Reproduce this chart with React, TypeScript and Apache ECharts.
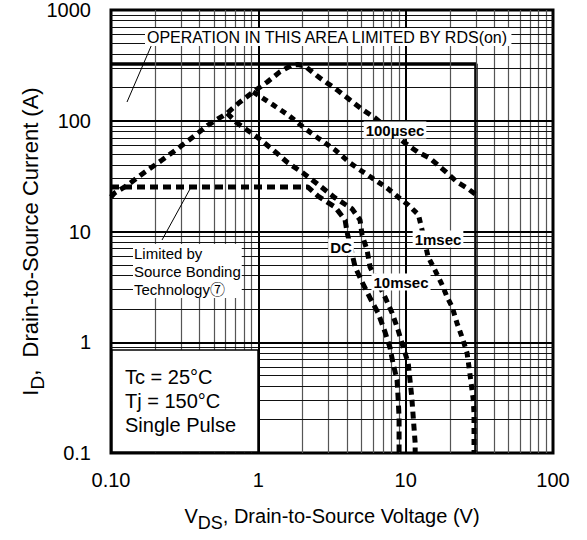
import React, { useEffect, useRef } from "react";
import * as echarts from "echarts";

// ---- tick labels ----
const xTickLabels = ["0.10", "1", "10", "100"];
const yTickLabels = ["0.1", "1", "10", "100", "1000"];

// ---- log grid positions ----
const xMinorGrid = [0.2, 0.3, 0.4, 0.5, 0.6, 0.7, 0.8, 0.9, 2, 3, 4, 5, 6, 7, 8, 9, 20, 30, 40, 50, 60, 70, 80, 90];
const xMajorGrid = [1, 10];
const yMinorGrid = [0.2, 0.3, 0.4, 0.5, 0.6, 0.7, 0.8, 0.9, 2, 3, 4, 5, 6, 7, 8, 9, 20, 30, 40, 50, 60, 70, 80, 90, 200, 300, 400, 500, 600, 700, 800, 900];
const yMajorGrid = [1, 10, 100];

// ---- SOA boundary (package current / VDS max) ----
const limitBox: [number, number][] = [[0.1, 325], [30, 325], [30, 0.1]];

// ---- RDS(on) limit rising into 100 µsec curve ----
const curve100us: [number, number][] = [
  [0.1, 20.5], [0.106, 22.3], [0.13, 26.3], [0.17, 34.5], [0.222, 44.2], [0.281, 55.6],
  [0.36, 71.3], [0.456, 91.5], [0.614, 117], [0.752, 148], [0.921, 182], [1.15, 224],
  [1.4, 276], [1.69, 318], [1.85, 322], [2.07, 312], [2.62, 243], [3.42, 190], [4.19, 154],
  [5.14, 125], [6.2, 106], [9.9, 63], [12.1, 52], [14.6, 46], [19.1, 33.8], [22.3, 28],
  [26.1, 24.7], [30.1, 21.4],
];

// ---- 1 msec ----
const curve1ms: [number, number][] = [
  [0.921, 182], [1.26, 139], [1.59, 113], [2.01, 87.9], [2.54, 69.9], [3.32, 54.5],
  [4.19, 41.6], [5.14, 34.5], [6.2, 29.2], [7.48, 24.7], [8.88, 20.5], [10.4, 17.4],
  [12.2, 14.2], [13.0, 10.0], [14.2, 5.89], [15.8, 4.49], [17.7, 3.29], [19.1, 2.56],
  [20.7, 2.08], [22.3, 1.49], [24.5, 1.05], [26.1, 0.8], [26.9, 0.6], [27.8, 0.43],
  [28.7, 0.31], [29.1, 0.23], [29.1, 0.1],
];

// ---- 10 msec ----
const curve10ms: [number, number][] = [
  [0.614, 117], [0.717, 95.4], [0.98, 71.3], [1.26, 54.5], [1.59, 41.6], [2.01, 33.8],
  [2.62, 25.8], [3.32, 20.1], [4.33, 16.0], [4.9, 12.7], [5.06, 9.3], [5.47, 6.8],
  [5.73, 4.78], [7.24, 2.56], [8.09, 1.84], [8.88, 1.29], [9.6, 0.91], [10.4, 0.65],
  [10.7, 0.456], [11.0, 0.32], [11.2, 0.23], [11.6, 0.123], [11.6, 0.1],
];

// ---- DC (limited by source bonding 25 A) ----
const curveDC: [number, number][] = [
  [0.1, 25.2], [2.17, 25.2], [2.54, 20.9], [3.32, 16.6], [3.88, 12.7], [4.0, 9.9],
  [4.54, 4.78], [5.06, 3.5], [5.73, 2.51], [6.5, 1.84], [7.24, 1.24], [7.83, 0.89],
  [8.2, 0.65], [8.74, 0.456], [8.88, 0.32], [9.02, 0.21], [9.02, 0.1],
];

const FONT = "'Liberation Sans', Arial, Helvetica, 'Noto Sans CJK JP', sans-serif";

function gridLines() {
  const d: any[] = [];
  xMinorGrid.forEach((v) => d.push({ xAxis: v, lineStyle: { color: "#555", width: 1.2, type: "solid" } }));
  yMinorGrid.forEach((v) => d.push({ yAxis: v, lineStyle: { color: "#111", width: 1, type: "solid" } }));
  xMajorGrid.forEach((v) => d.push({ xAxis: v, lineStyle: { color: "#000", width: 2, type: "solid" } }));
  yMajorGrid.forEach((v) => d.push({ yAxis: v, lineStyle: { color: "#000", width: 2, type: "solid" } }));
  return d;
}

function dashed(name: string, data: [number, number][], dash: number[]) {
  return {
    name,
    type: "line",
    data,
    symbol: "none",
    z: 5,
    lineStyle: { color: "#000", width: 5, type: dash, cap: "butt" },
    silent: true,
  };
}

export default function App() {
  const ref = useRef<HTMLDivElement>(null);
  useEffect(() => {
    if (!ref.current) return;
    const chart = echarts.init(ref.current, undefined, { renderer: "svg" });
    const labelBold = (text: string, x: number, y: number) => ({
      type: "text",
      z: 100,
      x,
      y,
      style: {
        text,
        fill: "#000",
        fontFamily: FONT,
        fontSize: 15,
        fontWeight: "bold",
        align: "center",
        verticalAlign: "middle",
        backgroundColor: "#fff",
        padding: [1, 2],
      },
    });
    chart.setOption({
      animation: false,
      backgroundColor: "#fff",
      grid: {
        left: 111,
        top: 10,
        right: 34,
        bottom: 87,
        show: true,
        borderColor: "#000",
        borderWidth: 3,
        backgroundColor: "#fff",
        z: 0,
      },
      xAxis: {
        type: "log",
        logBase: 10,
        min: 0.1,
        max: 100,
        axisLine: { show: false },
        axisTick: { show: false },
        splitLine: { show: false },
        axisLabel: {
          color: "#000",
          fontFamily: FONT,
          fontSize: 20,
          margin: 17,
          formatter: (v: number) => xTickLabels[Math.round(Math.log10(v)) + 1],
        },
        name: "{m|V}{s|DS}{m|, Drain-to-Source Voltage (V)}",
        nameLocation: "middle",
        nameGap: 53,
        nameTextStyle: {
          rich: {
            m: { fontFamily: FONT, fontSize: 20, color: "#000", lineHeight: 20, verticalAlign: "top" },
            s: { fontFamily: FONT, fontSize: 18, color: "#000", lineHeight: 18, padding: [8, 0, 0, 0], verticalAlign: "top" },
          },
        },
      },
      yAxis: {
        type: "log",
        logBase: 10,
        min: 0.1,
        max: 1000,
        axisLine: { show: false },
        axisTick: { show: false },
        splitLine: { show: false },
        axisLabel: {
          color: "#000",
          fontFamily: FONT,
          fontSize: 20,
          margin: 20,
          formatter: (v: number) => yTickLabels[Math.round(Math.log10(v)) + 1],
        },
        name: "{m|I}{s|D}{m|,  Drain-to-Source Current (A)}",
        nameLocation: "middle",
        nameGap: 70,
        nameMoveOverlap: false,
        nameTextStyle: {
          padding: [0, 20, 0, 0],
          rich: {
            m: { fontFamily: FONT, fontSize: 22, color: "#000", lineHeight: 22, verticalAlign: "top" },
            s: { fontFamily: FONT, fontSize: 19, color: "#000", lineHeight: 19, padding: [9, 0, 0, 0], verticalAlign: "top" },
          },
        },
      },
      series: [
        {
          name: "grid",
          type: "line",
          data: [],
          z: 1,
          silent: true,
          markLine: {
            silent: true,
            symbol: ["none", "none"],
            label: { show: false },
            animation: false,
            data: gridLines(),
          },
        },
        {
          name: "limit",
          type: "line",
          data: limitBox,
          symbol: "none",
          z: 4,
          silent: true,
          lineStyle: { color: "#000", width: 3.5, type: "solid" },
        },
        dashed("100µsec", curve100us, [7, 5]),
        dashed("1msec", curve1ms, [6, 5]),
        dashed("10msec", curve10ms, [7, 5]),
        dashed("DC", curveDC, [8, 5]),
      ],
      graphic: [
        {
          type: "line",
          z: 100,
          shape: { x1: 152, y1: 44, x2: 127, y2: 102 },
          style: { stroke: "#000", lineWidth: 1 },
        },
        {
          type: "line",
          z: 100,
          shape: { x1: 190, y1: 189, x2: 162, y2: 240 },
          style: { stroke: "#000", lineWidth: 1 },
        },
        {
          type: "text",
          z: 100,
          x: 145,
          y: 37,
          style: {
            text: "OPERATION IN THIS AREA LIMITED BY RDS(on)",
            fill: "#000",
            fontFamily: FONT,
            fontSize: 16,
            align: "left",
            verticalAlign: "middle",
            backgroundColor: "#fff",
            padding: [1, 2],
          },
        },
        labelBold("100µsec", 395, 130),
        labelBold("1msec", 438, 239),
        labelBold("DC", 341, 247),
        labelBold("10msec", 401, 282),
        {
          type: "text",
          z: 100,
          x: 133,
          y: 244,
          style: {
            text: "Limited by\nSource Bonding\nTechnology⑦",
            fill: "#000",
            fontFamily: FONT,
            fontSize: 15,
            lineHeight: 18,
            align: "left",
            verticalAlign: "top",
            backgroundColor: "#fff",
            padding: [0, 1],
          },
        },
        {
          type: "rect",
          z: 99,
          shape: { x: 112, y: 350, width: 146, height: 102 },
          style: { fill: "#fff", stroke: "#000", lineWidth: 1.5 },
        },
        {
          type: "text",
          z: 100,
          x: 125,
          y: 365,
          style: {
            text: "Tc = 25°C\nTj = 150°C\nSingle Pulse",
            fill: "#000",
            fontFamily: FONT,
            fontSize: 20,
            lineHeight: 24,
            align: "left",
            verticalAlign: "top",
          },
        },
      ],
    });
    return () => chart.dispose();
  }, []);
  return (
    <div
      ref={ref}
      style={{ position: "fixed", left: 0, top: 0, width: 587, height: 540 }}
    />
  );
}
